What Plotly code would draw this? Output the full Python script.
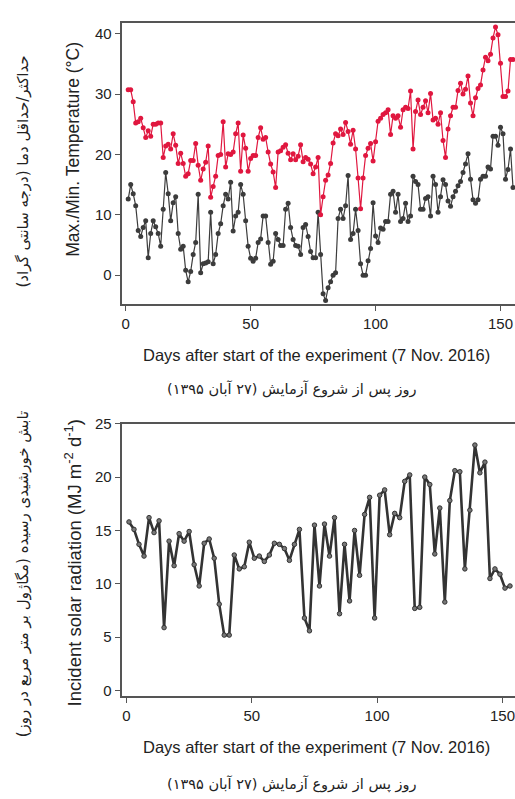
import plotly.graph_objects as go

# ---- data ----
days_temp = list(range(1, 156))

t_max = [30.7, 30.7, 28.7, 25.2, 25.4, 26, 24.4, 22.8, 23.9, 23,
         25, 25, 25.2, 25.2, 19.5, 21.4, 21.7, 20.9, 23.4, 21.5,
         18.5, 20.2, 18.5, 16.4, 16.8, 19, 19, 21.8, 18.2, 15.7,
         17.6, 18.7, 21.4, 12.9, 14.7, 16.4, 19.8, 20, 25.4, 17.9,
         20.1, 20, 20.4, 23.4, 25.2, 17.2, 23.2, 21, 17.2, 19.3,
         19.8, 19.8, 22.8, 24.4, 22.5, 22.8, 20.4, 18.4, 17.1, 14.5,
         20.4, 20.6, 21.2, 21.6, 20.2, 19.1, 20.1, 19.1, 19.7, 21.6,
         18.8, 19.5, 19.2, 18.4, 16.8, 17.9, 19.5, 10, 13, 15.7,
         16.6, 18.5, 21.9, 23.4, 23.1, 24.2, 23.3, 25.3, 23.8, 21.7,
         24, 20.9, 16.1, 11, 16.1, 19.8, 21, 21.8, 18.9, 22.1,
         25.5, 26, 26.6, 26.9, 27.4, 23.3, 26.4, 26, 26.4, 24.5,
         27.4, 27.8, 27.6, 30.5, 20.9, 27.1, 29, 26.6, 27.8, 28.9,
         26.9, 30.1, 25.7, 26, 25, 26.9, 22.3, 19.5, 24.2, 26.4,
         27.8, 27.8, 30.6, 31.8, 30, 30.8, 33, 28.5, 26.4, 29.4,
         30.9, 31.5, 34, 36.1, 35.5, 36.6, 39.3, 41.1, 39.8, 35.1,
         29.6, 29.6, 30.5, 35.7, 35.7]

t_min = [12.6, 15, 13.5, 11.5, 7.4, 6.4, 7.9, 9, 2.9, 6.9,
         9, 8, 6.9, 4.8, 10.9, 17, 13.5, 9, 12, 13,
         6.9, 4.3, 4.8, 0.8, -1.1, 0.6, 3.4, 5.4, 13.4, 0.4,
         1.9, 2, 2.2, 10.4, 1.9, 3.4, 6.9, 8.5, 11.5, 13.4,
         12.6, 15.4, 7.3, 9.8, 10.4, 15, 13.4, 9, 4.8, 2.8,
         2.3, 2.8, 5.4, 6, 9.8, 9.8, 5.4, 1.8, 2.3, 6.9,
         5.9, 4.9, 4.9, 10.9, 11.9, 7.9, 5.9, 4.9, 4.8, 3.4,
         7.9, 8.4, 6.4, 3.9, 2.9, 2.9, 10.4, 3.4, -3.1, -4.2,
         -2.1, -1.1, 0, 0.4, 9.4, 10.9, 9.4, 11.5, 16.5, 5.9,
         6.9, 10.9, 7.4, 1.9, 0, 0, 2.4, 4.4, 12, 6.5,
         5.4, 7.8, 7.6, 8.9, 8.9, 13.4, 13.9, 10.4, 13.4, 8.9,
         9.4, 11.9, 8.9, 9.8, 16.4, 15.5, 15, 10.9, 10.9, 12.7,
         13, 9.8, 16.4, 15, 10.4, 13, 15.8, 15, 12.3, 11.4,
         13, 13.9, 14.8, 15.5, 17, 18.4, 20.1, 15.9, 12.5, 11.9,
         12.5, 15.9, 16.4, 16.4, 17.9, 17.6, 23, 23, 21.5, 24.5,
         23.4, 15.9, 17.5, 20.9, 14.5]

days_rad = list(range(1, 154, 2))
radiation = [15.8, 15.1, 13.7, 12.6, 16.2, 14.8, 15.9, 5.9, 14, 11.7,
             14.7, 14, 14.9, 11.8, 9.8, 13.8, 14.2, 12.4, 8.1, 5.2,
             5.2, 12.7, 11.4, 11.6, 13.9, 12.4, 12.6, 12.1, 12.7, 13.8,
             13.7, 13.3, 12.2, 13.7, 15.1, 6.8, 5.6, 15.5, 9.8, 15.6,
             12.6, 16.2, 7.2, 13.7, 8.4, 15, 10.8, 16.5, 18.1, 6.8,
             18.3, 18.8, 14.6, 16.6, 16.2, 19.6, 20.2, 7.7, 7.8, 20,
             19.3, 12.8, 17.1, 8.3, 17.8, 20.6, 20.5, 11.4, 16.9, 23,
             20.4, 21.4, 10.5, 11.4, 10.9, 9.6, 9.8]

x_ticks = [0, 50, 100, 150]
x_title = "Days after start of the experiment (7 Nov. 2016)"
x_title_fa = "روز پس از شروع آزمایش (۲۷ آبان ۱۳۹۵)"
y1_title = "Max./Min. Temperature (°C)"
y1_title_fa = "حداکثر/حداقل دما (درجه سانتی گراد)"
y2_title = "Incident solar radiation (MJ m<sup>-2</sup> d<sup>-1</sup>)"
y2_title_fa = "تابش خورشیدی رسیده (مگاژول بر متر مربع در روز)"

W, H = 515, 799
EN = "Liberation Sans, Arial, sans-serif"
FA = "DejaVu Sans, sans-serif"
RED = "#e0173f"
DARK = "#3c3c3c"
AX = "#555555"


def px(p):
    # page column -> paper x
    return p / W


def py(p):
    # page row -> paper y
    return 1 - p / H


fig = go.Figure()

fig.add_trace(go.Scatter(x=days_temp, y=t_min, mode="lines+markers",
                         line=dict(color=DARK, width=1.2),
                         marker=dict(color=DARK, size=5),
                         xaxis="x", yaxis="y", showlegend=False))
fig.add_trace(go.Scatter(x=days_temp, y=t_max, mode="lines+markers",
                         line=dict(color=RED, width=1.2),
                         marker=dict(color=RED, size=5),
                         xaxis="x", yaxis="y", showlegend=False))
fig.add_trace(go.Scatter(x=days_rad, y=radiation, mode="lines+markers",
                         line=dict(color="#333333", width=2.6),
                         marker=dict(color="#777777", size=4.5,
                                     line=dict(color="#333333", width=1)),
                         xaxis="x2", yaxis="y2", showlegend=False))

axis_common = dict(showgrid=False, zeroline=False, showline=True,
                   linecolor=AX, linewidth=1.5, ticks="outside",
                   ticklen=6, tickwidth=1.2, tickcolor=AX,
                   tickfont=dict(family=EN, size=15, color="#222222"))

left = px(121.7)
fig.update_layout(
    width=W, height=H,
    margin=dict(l=0, r=0, t=0, b=0),
    paper_bgcolor="white", plot_bgcolor="white",
    xaxis=dict(domain=[left, 1], anchor="y", range=[-1.3, 155.8],
               tickvals=x_ticks, mirror=True, **axis_common),
    yaxis=dict(domain=[py(299), py(14)], anchor="x", range=[-4.7, 41.8],
               tickvals=[0, 10, 20, 30, 40], **axis_common),
    xaxis2=dict(domain=[left, 1], anchor="y2", range=[-1.6, 155],
                tickvals=x_ticks, mirror=True, **axis_common),
    yaxis2=dict(domain=[py(697), py(421)], anchor="x2", range=[-0.46, 25],
                tickvals=[0, 5, 10, 15, 20, 25], **axis_common),
)

ann = [
    dict(text=x_title, x=px(316), y=py(351), font=dict(family=EN, size=16.5)),
    dict(text=x_title_fa, x=px(292), y=py(386), font=dict(family=FA, size=14.5)),
    dict(text=x_title, x=px(316), y=py(749), font=dict(family=EN, size=16.5)),
    dict(text=x_title_fa, x=px(292), y=py(787), font=dict(family=FA, size=14.5)),
    dict(text=y1_title, x=px(72), y=py(142), textangle=-90,
         font=dict(family=EN, size=17.5)),
    dict(text=y1_title_fa, x=px(22), y=py(165), textangle=-90,
         font=dict(family=FA, size=15)),
    dict(text=y2_title, x=px(72), y=py(562), textangle=-90,
         font=dict(family=EN, size=18.5)),
    dict(text=y2_title_fa, x=px(22), y=py(573), textangle=-90,
         font=dict(family=FA, size=15)),
]
for a in ann:
    a.update(xref="paper", yref="paper", showarrow=False,
             xanchor="center", yanchor="middle")
    a["font"]["color"] = "#222222"
fig.update_layout(annotations=ann)

# drop the browser's default body margin so the figure fills the window
fig.write_html("out.html", config={"displayModeBar": False},
               post_script="document.body.style.margin='0';"
                           "document.body.style.overflow='hidden';")
